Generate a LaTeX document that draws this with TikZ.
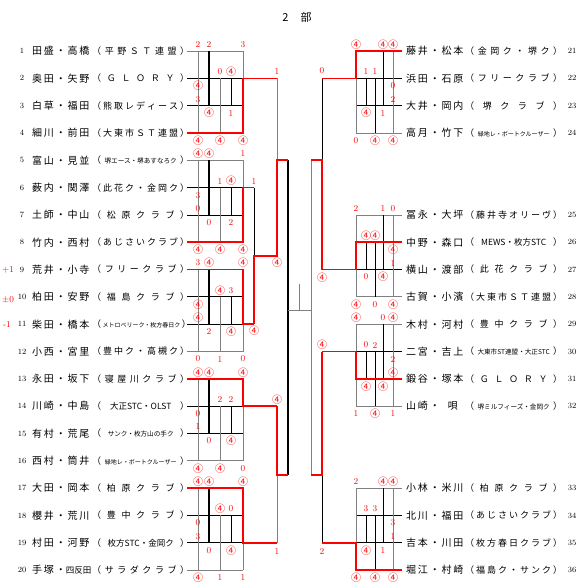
\documentclass[tikz,border=0pt]{standalone}
\usepackage{fontspec}
\newfontfamily\jp{Noto Sans CJK JP}
\newfontfamily\jpname[LetterSpace=18]{Noto Sans CJK JP}
\newcommand{\W}{{\jp\fontsize{10}{10}\selectfont ④}}
\newcommand{\sm}{\fontsize{6.6}{7}\selectfont}
\newcommand{\xs}{\fontsize{6}{6}\selectfont}
\newcommand{\teambox}[1]{\makebox[97pt][s]{（ #1 ）}}
\newcommand{\rowy}[1]{51+27.32*(#1-1)}
\def\leftcols{{198,198,198,198,209,209,220,220,231,231,243,243}}
\def\rightcols{{393,393,393,393,383,383,375,375,366,366,356,356}}
\def\poolrows{{0,1,2,3,0,2,1,3,1,2,0,3}}
\tikzset{
  grid/.style={gray, line width=0.8pt},
  dark/.style={black, line width=0.8pt},
  heavy/.style={black, line width=1.6pt},
  win/.style={red, line width=1.6pt},
  score/.style={text=red, inner sep=0pt, font=\fontsize{9}{9}\selectfont},
  player/.style={anchor=west, inner sep=0pt, font=\jpname\fontsize{10}{10}\selectfont},
  team/.style={anchor=west, inner sep=0pt, font=\jp\fontsize{9}{9}\selectfont},
  num/.style={inner sep=0pt, font=\fontsize{8}{8}\selectfont}
}
% scores of one pool of four: side, columns, first row, twelve results
\newcommand{\scores}[4]{%
  \foreach \s [count=\k] in {#4} {
    \pgfmathsetmacro\sx{#2[\k-1]}
    \pgfmathsetmacro\pr{\poolrows[\k-1]}
    \pgfmathsetmacro\sy{\rowy{#3}+27.32*\pr+ifthenelse(isodd(\k),-6.5,7.5)}
    \node[score] (#1#3k\k) at (\sx,\sy) {\s};
  }
}

\begin{document}
\begin{tikzpicture}[x=1pt, y=-1pt]
\useasboundingbox (0,0) rectangle (580,587);
\node[font=\jp\fontsize{11}{11}\selectfont] (title) at (297,17) {2\hspace{12pt}部};

% left players
\foreach \i/\who/\tn in {
  1/田盛・高橋/{平 野 Ｓ Ｔ 連 盟},
  2/奥田・矢野/{Ｇ Ｌ Ｏ Ｒ Ｙ},
  3/白草・福田/{熊 取 レ デ ィ ー ス},
  4/細川・前田/{大 東 市 Ｓ Ｔ 連 盟},
  5/富山・見並/{{\sm 堺エース・堺あすなろク}},
  6/薮内・関澤/{此 花 ク ・ 金 岡 ク},
  7/土師・中山/{松 原 ク ラ ブ},
  8/竹内・西村/{あ じ さ い ク ラ ブ},
  9/荒井・小寺/{フ リ ー ク ラ ブ},
  10/柏田・安野/{福 島 ク ラ ブ},
  11/柴田・橋本/{{\xs メトロベリーク・枚方春日ク}},
  12/小西・宮里/{豊 中 ク ・ 高 槻 ク},
  13/永田・坂下/{寝 屋 川 ク ラ ブ},
  14/川崎・中島/{{\fontsize{8.5}{9}\selectfont 大正STC・OLST}},
  15/有村・荒尾/{{\sm サンク・枚方山の手ク}},
  16/西村・筒井/{{\xs 緑地レ・ボートクルーザー}},
  17/大田・岡本/{柏 原 ク ラ ブ},
  18/櫻井・荒川/{豊 中 ク ラ ブ},
  19/村田・河野/{{\fontsize{8.5}{9}\selectfont 枚方STC・金岡ク}},
  20/手塚・{\jp\fontsize{8.5}{9}\selectfont 四反田}/{サ ラ ダ ク ラ ブ}} {
  \node[num] (n\i) at (22,{\rowy{\i}}) {\i};
  \node[player] (p\i) at (32,{\rowy{\i}}) {\who};
  \node[team] (t\i) at (92,{\rowy{\i}}) {\teambox{\tn}};
}
\node[score] (plus) at (8,{\rowy{9}}) {+1};
\node[score] (even) at (8,{\rowy{10}+3}) {$\pm$0};
\node[score] (minus) at (7,{\rowy{11}}) {-1};

% right players
\foreach \i/\sl/\who/\tn in {
  21/1/藤井・松本/{金 岡 ク ・ 堺 ク},
  22/2/浜田・石原/{フ リ ー ク ラ ブ},
  23/3/大井・岡内/{堺 ク ラ ブ},
  24/4/高月・竹下/{{\xs 緑地レ・ボートクルーザー}},
  25/7/冨永・大坪/{藤 井 寺 オ リ ー ヴ},
  26/8/中野・森口/{{\fontsize{8.5}{9}\selectfont MEWS・枚方STC}},
  27/9/横山・渡部/{此 花 ク ラ ブ},
  28/10/古賀・小濱/{大 東 市 Ｓ Ｔ 連 盟},
  29/11/木村・河村/{豊 中 ク ラ ブ},
  30/12/二宮・吉上/{{\sm 大東市ST連盟・大正STC}},
  31/13/鍛谷・塚本/{Ｇ Ｌ Ｏ Ｒ Ｙ},
  32/14/山崎・\hspace{8pt}唄/{{\sm 堺ミルフィーズ・金岡ク}},
  33/17/小林・米川/{柏 原 ク ラ ブ},
  34/18/北川・福田/{あ じ さ い ク ラ ブ},
  35/19/吉本・川田/{枚 方 春 日 ク ラ ブ},
  36/20/堀江・村崎/{福 島 ク ・ サ ン ク}} {
  \node[player] (p\i) at (406,{\rowy{\sl}}) {\who};
  \node[team] (t\i) at (465,{\rowy{\sl}}) {\teambox{\tn}};
  \node[num] (n\i) at (572,{\rowy{\sl}}) {\i};
}

% left pools
\foreach \b in {1,5,9,13,17} {
  \draw[grid] (187,{\rowy{\b}}) -- (243,{\rowy{\b}});
  \draw[dark] (187,{\rowy{\b+1}}) -- (243,{\rowy{\b+1}});
  \draw[dark] (187,{\rowy{\b+2}}) -- (243,{\rowy{\b+2}});
  \draw[grid] (187,{\rowy{\b+3}}) -- (243,{\rowy{\b+3}});
  \draw[grid] (198,{\rowy{\b}}) -- (198,{\rowy{\b+3}});
  \draw[heavy] (209,{\rowy{\b}}) -- (209,{\rowy{\b+2}});
  \draw[grid] (220,{\rowy{\b+1}}) -- (220,{\rowy{\b+3}});
  \draw[dark] (231,{\rowy{\b+1}}) -- (231,{\rowy{\b+2}});
  \draw[grid] (243,{\rowy{\b}}) -- (243,{\rowy{\b+3}});
}
% right pools
\foreach \b in {1,7,11,17} {
  \draw[grid] (356,{\rowy{\b}}) -- (402,{\rowy{\b}});
  \draw[dark] (356,{\rowy{\b+1}}) -- (402,{\rowy{\b+1}});
  \draw[dark] (356,{\rowy{\b+2}}) -- (402,{\rowy{\b+2}});
  \draw[grid] (356,{\rowy{\b+3}}) -- (402,{\rowy{\b+3}});
  \draw[grid] (356,{\rowy{\b}}) -- (356,{\rowy{\b+3}});
  \draw[dark] (366,{\rowy{\b+1}}) -- (366,{\rowy{\b+2}});
  \draw[dark] (375,{\rowy{\b+1}}) -- (375,{\rowy{\b+3}});
  \draw[dark] (383,{\rowy{\b}}) -- (383,{\rowy{\b+2}});
  \draw[grid] (393,{\rowy{\b}}) -- (393,{\rowy{\b+3}});
}

% knockout lines
\draw[dark] (254,{\rowy{6}}) -- (254,{\rowy{11}});
\draw[grid] (277,{\rowy{2}}) -- (277,256);
\draw[grid] (277,{\rowy{14}}) -- (277,{\rowy{19}});
\draw[heavy] (288,160) -- (288,475);
\draw[grid] (288,310) -- (311,310);
\draw[grid] (299,284) -- (299,310);
\draw[grid] (311,160) -- (311,475);
\draw[dark] (322,{\rowy{2}}) -- (322,{\rowy{9}});
\draw[dark] (322,{\rowy{12}}) -- (322,{\rowy{19}});

% winners
\foreach \w/\e/\t in {4/2/277, 8/6/254, 9/11/254, 13/14/277, 17/19/277}
  \draw[win] (187,{\rowy{\w}}) -| (243,{\rowy{\e}}) -- (\t,{\rowy{\e}});
\foreach \w/\e in {1/2, 8/9, 13/12, 20/19}
  \draw[win] (402,{\rowy{\w}}) -| (356,{\rowy{\e}}) -- (322,{\rowy{\e}});
\draw[win] (254,{\rowy{11}}) -- (254,256) -- (277,256) -- (277,160) -- (288,160);
\draw[win] (277,{\rowy{14}}) -- (277,475) -- (288,475);
\draw[win] (322,{\rowy{9}}) -- (322,160) -- (311,160);
\draw[win] (322,{\rowy{12}}) -- (322,475) -- (311,475);

% pool results
\scores{L}{\leftcols}{1}{2,\W,3,\W,2,\W,0,\W,\W,1,3,\W}
\scores{L}{\leftcols}{5}{\W,3,0,\W,\W,0,1,\W,\W,2,1,\W}
\scores{L}{\leftcols}{9}{3,\W,\W,0,\W,2,\W,1,3,\W,\W,0}
\scores{L}{\leftcols}{13}{\W,0,1,\W,\W,0,2,\W,2,\W,\W,0}
\scores{L}{\leftcols}{17}{\W,0,3,\W,\W,0,\W,1,0,\W,\W,1}
\scores{R}{\rightcols}{1}{\W,0,2,\W,\W,1,1,\W,1,\W,\W,0}
\scores{R}{\rightcols}{7}{0,\W,1,\W,1,\W,\W,0,\W,0,2,\W}
\scores{R}{\rightcols}{11}{\W,2,\W,1,0,\W,2,\W,0,\W,\W,1}
\scores{R}{\rightcols}{17}{\W,3,1,\W,\W,1,3,\W,3,\W,2,\W}

% knockout results
\node[score] (k1) at (277,71) {1};
\node[score] (k2) at (254,181) {1};
\node[score] (k3) at (254,331) {\W};
\node[score] (k4) at (277,263) {\W};
\node[score] (k5) at (277,400) {\W};
\node[score] (k6) at (277,551) {1};
\node[score] (k7) at (322,71) {0};
\node[score] (k8) at (322,278) {\W};
\node[score] (k9) at (322,345) {\W};
\node[score] (k10) at (322,551) {2};
\end{tikzpicture}
\end{document}
